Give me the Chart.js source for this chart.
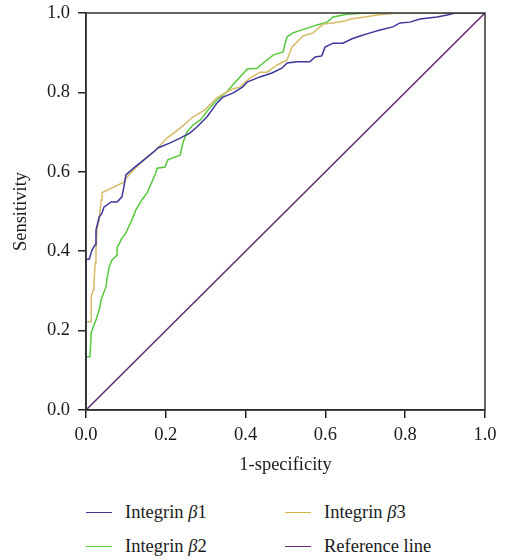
<!DOCTYPE html>
<html>
<head>
<meta charset="utf-8">
<script src="https://cdn.jsdelivr.net/npm/chart.js@4.4.1/dist/chart.umd.min.js"></script>
<style>
  body { margin: 0; background: #fff; }
  #wrap { position: relative; width: 505px; height: 559px; }
  #box { position: absolute; left: 0; top: 0; width: 505px; height: 480px; }
  .leg { position: absolute; font-family: 'Liberation Serif', serif; font-size: 18.5px; color: #1a1a1a; line-height: 20px; white-space: nowrap; }
  .leg span.sw { position: absolute; left: 0; top: 10px; width: 26px; height: 0; border-top: 1.5px solid; }
  .leg span.tx { position: absolute; left: 39px; top: 0; }
</style>
</head>
<body>
<div id="wrap">
  <div id="box"><canvas id="roc"></canvas></div>
  <div class="leg" style="left:86px;top:502px;"><span class="sw" style="border-color:#3d379c"></span><span class="tx">Integrin <i>β</i>1</span></div>
  <div class="leg" style="left:285px;top:502px;"><span class="sw" style="border-color:#d4b442"></span><span class="tx">Integrin <i>β</i>3</span></div>
  <div class="leg" style="left:86px;top:536px;"><span class="sw" style="border-color:#4fcb32"></span><span class="tx">Integrin <i>β</i>2</span></div>
  <div class="leg" style="left:285px;top:536px;"><span class="sw" style="border-color:#6a2e7a"></span><span class="tx">Reference line</span></div>
</div>
<script>
// ROC curve points (x = 1-specificity, y = sensitivity)
const b1X = [0, 0, 0.008, 0.015, 0.023, 0.025, 0.033, 0.040, 0.045, 0.063, 0.078, 0.090, 0.095, 0.100, 0.120, 0.145, 0.175,
  0.180, 0.211, 0.236, 0.261, 0.278, 0.303, 0.328, 0.343, 0.368, 0.393, 0.404, 0.436, 0.466, 0.491, 0.504,
  0.529, 0.561, 0.574, 0.591, 0.599, 0.619, 0.644, 0.667, 0.687, 0.712, 0.737, 0.769, 0.787, 0.812, 0.837, 0.880, 0.905, 0.925, 1];
const b1Y = [0, 0.380, 0.380, 0.403, 0.416, 0.453, 0.486, 0.496, 0.511, 0.524, 0.524, 0.537, 0.562, 0.592, 0.610, 0.630, 0.655,
  0.660, 0.673, 0.685, 0.698, 0.713, 0.738, 0.773, 0.788, 0.798, 0.814, 0.826, 0.839, 0.849, 0.861, 0.874,
  0.877, 0.877, 0.889, 0.892, 0.914, 0.924, 0.924, 0.935, 0.942, 0.950, 0.957, 0.965, 0.975, 0.977, 0.985, 0.990, 0.995, 1.0, 1.0];

const b2X = [0, 0, 0.010, 0.013, 0.018, 0.025, 0.033, 0.038, 0.045, 0.050, 0.053, 0.058, 0.065, 0.078, 0.078, 0.090, 0.100,
  0.115, 0.125, 0.140, 0.153, 0.165, 0.175, 0.178, 0.198, 0.205, 0.236, 0.243, 0.253, 0.268, 0.286, 0.306, 0.328,
  0.353, 0.368, 0.386, 0.404, 0.429, 0.444, 0.469, 0.494, 0.499, 0.504, 0.519, 0.554, 0.579, 0.604, 0.619, 0.654, 0.704, 1];
const b2Y = [0, 0.134, 0.134, 0.194, 0.209, 0.227, 0.252, 0.277, 0.297, 0.310, 0.332, 0.360, 0.378, 0.390, 0.408, 0.433, 0.446,
  0.479, 0.504, 0.529, 0.547, 0.574, 0.597, 0.609, 0.612, 0.630, 0.642, 0.673, 0.700, 0.718, 0.730, 0.756, 0.781,
  0.801, 0.819, 0.839, 0.859, 0.861, 0.874, 0.894, 0.902, 0.924, 0.940, 0.950, 0.962, 0.970, 0.977, 0.990, 0.997, 1.0, 1.0];

const b3X = [0, 0, 0.013, 0.013, 0.018, 0.020, 0.023, 0.025, 0.028, 0.033, 0.038, 0.040, 0.095, 0.103, 0.120, 0.145, 0.170,
  0.203, 0.236, 0.268, 0.298, 0.328, 0.361, 0.386, 0.411, 0.436, 0.454, 0.479, 0.504, 0.516, 0.544, 0.569,
  0.594, 0.619, 0.649, 0.662, 0.699, 0.729, 0.782, 1];
const b3Y = [0, 0.222, 0.222, 0.285, 0.302, 0.322, 0.370, 0.403, 0.458, 0.479, 0.529, 0.547, 0.574, 0.587, 0.605, 0.630, 0.650,
  0.685, 0.710, 0.738, 0.756, 0.786, 0.806, 0.814, 0.836, 0.851, 0.851, 0.869, 0.882, 0.914, 0.942, 0.950,
  0.972, 0.975, 0.980, 0.985, 0.990, 0.995, 1.0, 1.0];

const refX = [0, 1];
const refY = [0, 1];

const axisTicks = [0, 0.2, 0.4, 0.6, 0.8, 1.0];

const toPoints = (xs, ys) => xs.map((x, i) => ({ x: x, y: ys[i] }));

const font = { family: "'Liberation Serif', serif", size: 18.5 };
const ink = '#1a1a1a';

// draws the closed frame around the plot area
const framePlugin = {
  id: 'frame',
  afterDatasetsDraw(chart) {
    const a = chart.chartArea;
    const ctx = chart.ctx;
    ctx.save();
    ctx.strokeStyle = '#333';
    ctx.lineWidth = 1.5;
    ctx.strokeRect(a.left, a.top, a.right - a.left, a.bottom - a.top);
    ctx.restore();
  }
};

const lineSet = (label, pts, color) => ({
  label: label,
  data: pts,
  showLine: true,
  borderColor: color,
  backgroundColor: color,
  borderWidth: 1.5,
  pointRadius: 0,
  tension: 0
});

new Chart(document.getElementById('roc'), {
  type: 'scatter',
  data: {
    datasets: [
      lineSet('Integrin β1', toPoints(b1X, b1Y), '#3d379c'),
      lineSet('Integrin β3', toPoints(b3X, b3Y), '#d6bb68'),
      lineSet('Integrin β2', toPoints(b2X, b2Y), '#55c93a'),
      lineSet('Reference line', toPoints(refX, refY), '#5e2a6c')
    ]
  },
  options: {
    responsive: true,
    maintainAspectRatio: false,
    animation: false,
    layout: { padding: { top: 13, right: 20, left: 0, bottom: 0 } },
    plugins: { legend: { display: false }, tooltip: { enabled: false } },
    scales: {
      x: {
        type: 'linear', min: 0, max: 1,
        afterBuildTicks: s => { s.ticks = axisTicks.map(v => ({ value: v })); },
        afterFit: s => { s.height = 70; s.paddingLeft = 0; s.paddingRight = 0; },
        grid: { drawOnChartArea: false, drawTicks: true, tickLength: 8, color: '#222', lineWidth: 1.5 },
        border: { color: '#222', width: 1.5 },
        ticks: { color: ink, font: font, padding: 6, callback: v => v.toFixed(1) },
        title: { display: true, text: '1-specificity', color: ink, font: font, padding: { top: 6 } }
      },
      y: {
        type: 'linear', min: 0, max: 1,
        afterBuildTicks: s => { s.ticks = axisTicks.map(v => ({ value: v })); },
        afterFit: s => { s.width = 86; s.paddingTop = 0; s.paddingBottom = 0; },
        grid: { drawOnChartArea: false, drawTicks: true, tickLength: 8, color: '#222', lineWidth: 1.5 },
        border: { color: '#222', width: 1.5 },
        ticks: { color: ink, font: font, padding: 8, callback: v => v.toFixed(1) },
        title: { display: true, text: 'Sensitivity', color: ink, font: font, padding: { top: 10, bottom: 4 } }
      }
    }
  },
  plugins: [framePlugin]
});
</script>
</body>
</html>
